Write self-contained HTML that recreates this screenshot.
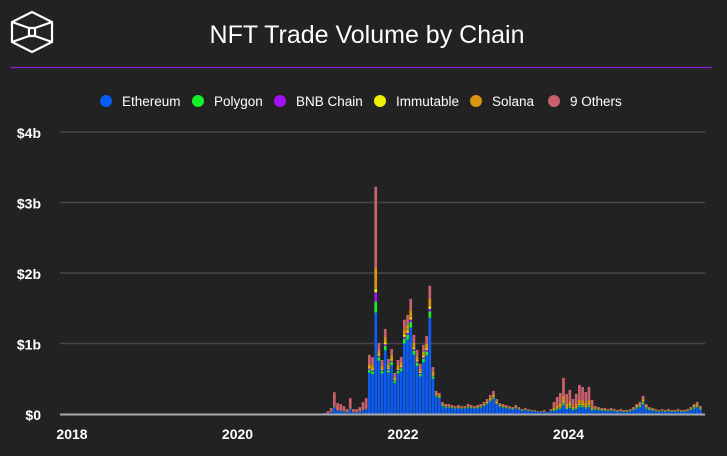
<!DOCTYPE html>
<html><head><meta charset="utf-8"><style>
body{margin:0;background:#222;width:727px;height:451px;overflow:hidden;font-family:"Liberation Sans",sans-serif}
svg text{font-family:"Liberation Sans",sans-serif}
</style></head><body>
<svg id="chart" width="727" height="451">
<rect width="727" height="451" fill="#222"/>
<g fill="none" stroke="#fff" stroke-width="2.2">
<polygon points="32,12 52,22 52,42 32,52 12,42 12,22"/>
<polygon points="29,28 35,28 35,36 29,36"/>
<line x1="12" y1="22" x2="29" y2="28"/><line x1="52" y1="22" x2="35" y2="28"/>
<line x1="12" y1="42" x2="29" y2="36"/><line x1="52" y1="42" x2="35" y2="36"/>
</g>
<text x="367" y="43" text-anchor="middle" fill="#fff" font-size="25">NFT Trade Volume by Chain</text>
<line x1="10" y1="67.5" x2="712" y2="67.5" stroke="#8a1fd0" stroke-width="1.2"/>
<g id="legend"></g>
<g id="grid"></g><g id="bars"></g><g id="axes"></g>
</svg>
<script>
const seriesNames=["Ethereum","Polygon","BNB Chain","Immutable","Solana","9 Others"];
const seriesColors=["#0a5cf5","#14f02c","#a010f0","#eef008","#d9950f","#c8606e"];
const yTicks=[0,1000,2000,3000,4000];
const yTickLabels=["$0","$1b","$2b","$3b","$4b"];
const xTicks=[2018,2020,2022,2024];
const ethereum=[0,4,13,26,94,47,43,34,21,68,21,21,30,51,68,587,566,1440,756,575,905,586,692,437,575,607,1001,1055,1225,842,682,533,735,831,1364,500,245,224,111,92,92,83,74,83,74,74,92,83,74,83,92,111,138,176,213,138,101,92,83,74,64,83,64,46,55,46,37,37,28,28,37,18,46,43,60,75,128,71,85,53,71,103,96,78,96,50,63,54,47,47,39,47,39,31,39,31,31,39,54,78,94,141,78,54,47,39,31,39,31,39,31,31,39,31,31,39,54,78,94,63];
const polygon=[0,0,1,2,6,3,3,2,1,5,1,1,2,3,5,42,40,155,50,38,60,39,46,29,38,40,67,70,82,56,45,36,49,55,91,33,16,15,10,9,9,8,7,8,7,7,9,8,7,8,9,10,13,16,20,13,9,9,8,7,6,8,6,4,5,4,3,3,2,2,3,2,4,9,12,15,26,14,17,11,14,21,19,16,19,10,11,10,9,9,7,9,7,6,7,6,6,7,10,14,17,26,14,10,9,7,6,7,6,7,6,6,7,6,6,7,10,14,17,11];
const bnbChain=[0,0,0,1,3,2,1,1,1,2,1,1,1,2,2,17,16,130,20,15,24,16,18,12,15,16,27,28,33,22,18,14,20,22,36,13,7,6,5,4,4,4,3,4,3,3,4,4,3,4,4,5,6,8,10,6,5,4,4,3,3,4,3,2,3,2,1,1,1,1,1,1,2,3,5,6,10,6,7,4,6,8,8,6,8,4,6,5,4,4,4,4,4,3,4,3,3,4,5,7,9,13,7,5,4,4,3,4,3,4,3,3,4,3,3,4,5,7,9,6];
const immutable=[0,0,0,0,0,0,0,0,0,0,0,0,0,0,0,17,16,50,20,15,24,16,18,12,15,16,27,28,33,22,18,14,20,22,36,13,7,6,5,4,4,4,3,4,3,3,4,4,3,4,4,5,6,8,10,6,5,4,4,3,3,4,3,2,3,2,1,1,1,1,1,1,2,5,7,9,15,9,10,6,9,12,11,9,11,6,6,5,4,4,4,4,4,3,4,3,3,4,5,7,9,13,7,5,4,4,3,4,3,4,3,3,4,3,3,4,5,7,9,6];
const solana=[0,0,0,1,3,2,1,1,1,2,1,1,1,2,2,50,49,300,60,46,72,47,55,35,46,49,80,84,98,67,55,43,59,66,109,40,20,18,14,11,11,10,9,10,9,9,11,10,9,10,11,14,17,22,26,17,12,11,10,9,8,10,8,6,7,6,5,5,3,3,5,2,6,26,36,45,77,43,51,32,43,62,57,47,57,30,11,10,9,9,7,9,7,6,7,6,6,7,10,14,17,26,14,10,9,7,6,7,6,7,6,6,7,6,6,7,10,14,17,11];
const others=[0,9,28,55,203,101,92,74,46,148,46,46,64,111,148,126,121,1148,101,77,121,78,92,58,77,81,134,141,163,112,91,71,98,111,182,67,33,30,26,21,21,19,17,19,17,17,21,19,17,19,21,26,32,41,49,32,23,21,19,17,15,19,15,11,13,11,9,9,6,6,9,4,11,85,121,149,256,142,171,107,142,206,192,156,192,100,17,15,13,13,11,13,11,9,11,9,9,11,15,21,26,38,21,15,13,11,9,11,9,11,9,9,11,9,9,11,15,21,26,17];
const startYear=2021.0, periodYears=1/26;
const NS="http://www.w3.org/2000/svg";
const X0=72,PXY=82.75,Y0=414,PXM=70.5/1000;
const xs=d=>X0+(d-2018)*PXY, ys=v=>Y0-v*PXM;
function mk(t,a,p){const e=document.createElementNS(NS,t);for(const k in a)e.setAttribute(k,a[k]);p.appendChild(e);return e;}
const grid=document.getElementById('grid'),axes=document.getElementById('axes'),bars=document.getElementById('bars'),leg=document.getElementById('legend');
yTicks.forEach((v,i)=>{
 if(i>0){const l=mk('line',{x1:60,x2:705,y1:ys(v),y2:ys(v),stroke:'#474747','stroke-width':1.5},grid);
 
 }
 const t=mk('text',{x:41,y:ys(v)+6,'text-anchor':'end',fill:'#fff','font-size':14,'font-weight':'bold'},axes);t.textContent=yTickLabels[i];
 
 
});
const base=mk('line',{x1:60,x2:705,y1:Y0+0.5,y2:Y0+0.5,stroke:'#aaa','stroke-width':2},axes);


xTicks.forEach(y=>{const t=mk('text',{x:xs(y),y:439,'text-anchor':'middle',fill:'#fff','font-size':14,'font-weight':'bold'},axes);t.textContent=y;
 
 });
const series=[ethereum,polygon,bnbChain,immutable,solana,others];
for(let i=0;i<ethereum.length;i++){
 const x=xs(startYear+i*periodYears);let acc=0;
 series.forEach((s,k)=>{const v=s[i];if(!v)return;
  const r=mk('rect',{x:x,y:ys(acc+v),width:2.7,height:v*PXM,fill:seriesColors[k]},bars);
  
  
  acc+=v;});
}
const lx=[106,198,280,380,476,554];
seriesNames.forEach((n,k)=>{
 const g=mk('g',{},leg);
 
 
 mk('circle',{cx:lx[k],cy:101,r:6,fill:seriesColors[k]},g);
 const t=mk('text',{x:lx[k]+16,y:106,fill:'#fff','font-size':13.5},g);t.textContent=n;
});
</script>
</body></html>
